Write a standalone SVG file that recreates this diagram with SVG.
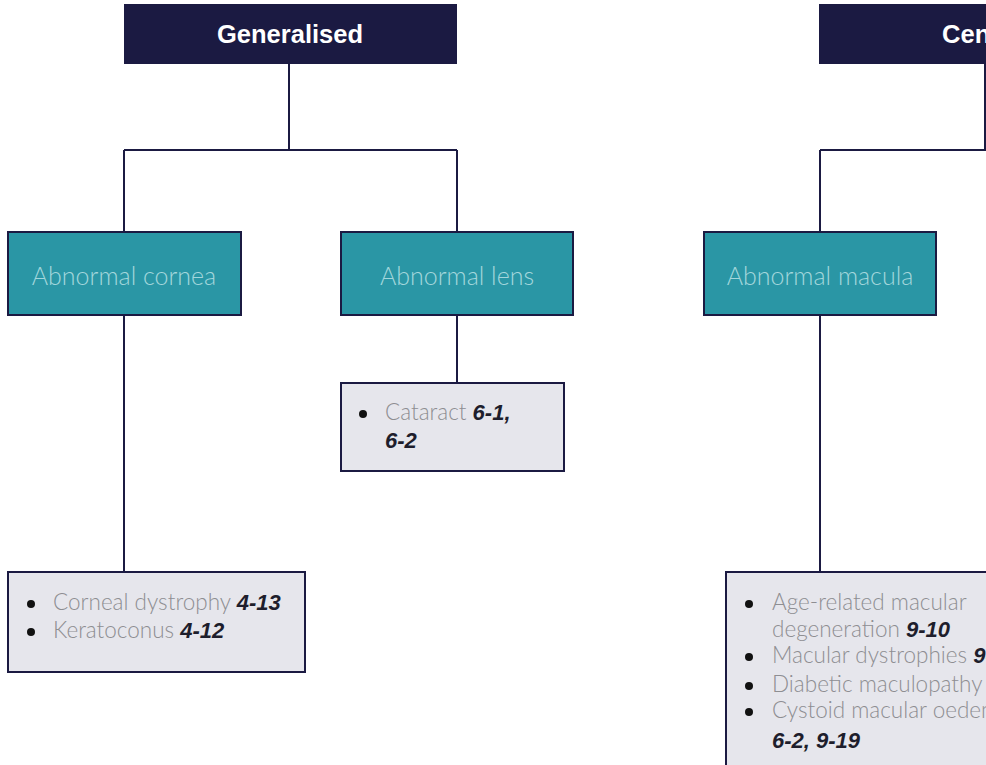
<svg xmlns="http://www.w3.org/2000/svg" width="986" height="765" viewBox="0 0 986 765">
<style>
.hdr{fill:#1b1a42}
.hdrt{fill:#ffffff;font-family:"Liberation Sans",Arial,sans-serif;font-weight:bold;font-size:25.5px;text-anchor:middle}
.cat{fill:#2a96a5;stroke:#1b1a42;stroke-width:2}
.catt{fill:#a3d6dc;font-family:Lato,"Liberation Sans",sans-serif;font-weight:300;font-size:25px;text-anchor:middle}
.lst{fill:#e6e6ec;stroke:#1b1a42;stroke-width:2}
.lt{fill:#8e8e92;font-family:Lato,"Liberation Sans",sans-serif;font-weight:300;font-size:22.5px}
.ref{fill:#1e1e2c;font-family:"Liberation Sans",Arial,sans-serif;font-weight:bold;font-style:italic;font-size:22px}
.bul{fill:#111111}
.con{fill:none;stroke:#1b1a42;stroke-width:2}
</style>
<g id="connectors">
<path class="con" d="M289 64V150M124 150H457M124 150V232M457 150V232"/>
<path class="con" d="M985 64V150M820 150H986M820 150V232"/>
<path class="con" d="M124 315V572"/>
<path class="con" d="M457 315V383"/>
<path class="con" d="M820 315V572"/>
</g>
<g id="generalised">
<rect class="hdr" x="124" y="4" width="333" height="60"/>
<text class="hdrt" x="290" y="43">Generalised</text>
</g>
<g id="central">
<rect class="hdr" x="819" y="4" width="333" height="60"/>
<text class="hdrt" x="986" y="43">Central</text>
</g>
<g id="abnormal-cornea">
<rect class="cat" x="8" y="232" width="233" height="83"/>
<text class="catt" x="124" y="285">Abnormal cornea</text>
</g>
<g id="abnormal-lens">
<rect class="cat" x="341" y="232" width="232" height="83"/>
<text class="catt" x="457" y="285">Abnormal lens</text>
</g>
<g id="abnormal-macula">
<rect class="cat" x="704" y="232" width="232" height="83"/>
<text class="catt" x="820" y="285">Abnormal macula</text>
</g>
<g id="cornea-list">
<rect class="lst" x="8" y="572" width="297" height="100"/>
<circle class="bul" cx="31" cy="604" r="4"/>
<text x="53" y="610"><tspan class="lt">Corneal dystrophy </tspan><tspan class="ref">4-13</tspan></text>
<circle class="bul" cx="31" cy="632" r="4"/>
<text x="53" y="638"><tspan class="lt">Keratoconus </tspan><tspan class="ref">4-12</tspan></text>
</g>
<g id="lens-list">
<rect class="lst" x="341" y="383" width="223" height="88"/>
<circle class="bul" cx="363" cy="414" r="4"/>
<text x="385" y="420"><tspan class="lt">Cataract </tspan><tspan class="ref">6-1,</tspan></text>
<text class="ref" x="385" y="448">6-2</text>
</g>
<g id="macula-list">
<rect class="lst" x="726" y="572" width="270" height="200"/>
<circle class="bul" cx="749" cy="604" r="4"/>
<text class="lt" x="772" y="610">Age-related macular</text>
<text x="772" y="637"><tspan class="lt">degeneration </tspan><tspan class="ref">9-10</tspan></text>
<circle class="bul" cx="749" cy="657" r="4"/>
<text x="772" y="663"><tspan class="lt">Macular dystrophies </tspan><tspan class="ref">9-</tspan></text>
<circle class="bul" cx="749" cy="686" r="4"/>
<text x="772" y="692"><tspan class="lt">Diabetic maculopathy </tspan><tspan class="ref">9</tspan></text>
<circle class="bul" cx="749" cy="712" r="4"/>
<text class="lt" x="772" y="718">Cystoid macular oedema</text>
<text class="ref" x="772" y="748">6-2, 9-19</text>
</g>
</svg>
